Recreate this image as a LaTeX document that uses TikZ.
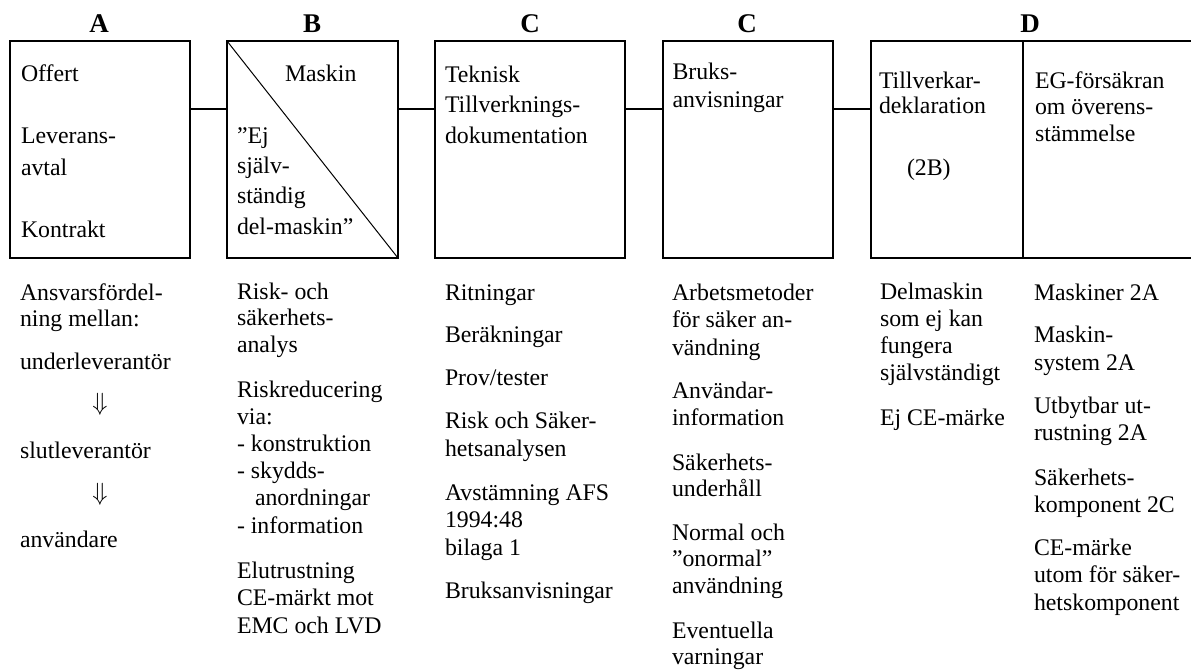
\documentclass[tikz,border=0pt]{standalone}
\usepackage{fontspec}
\setmainfont{Liberation Serif}
\tikzset{
  box/.style={draw, line width=2pt, inner sep=0pt, outer sep=0pt},
  txt/.style={anchor=base west, inner sep=0pt, outer sep=0pt, align=left, font=\fontsize{23.8}{#1}\selectfont},
  txt/.default=26.8,
  hdr/.style={anchor=base, inner sep=0pt, outer sep=0pt, font=\fontsize{27}{30}\selectfont\bfseries},
  arr/.style={anchor=base, inner sep=0pt, outer sep=0pt, font=\fontsize{23.8}{26.8}\selectfont},
  link/.style={line width=2pt},
  diag/.style={line width=1pt},
}
\begin{document}
\begin{tikzpicture}[x=1pt,y=-1pt]
\useasboundingbox (0,0) rectangle (1191,670);
% headers
\node[hdr] (hA) at (99,32) {A};
\node[hdr] (hB) at (312,32) {B};
\node[hdr] (hC1) at (530,32) {C};
\node[hdr] (hC2) at (747,32) {C};
\node[hdr] (hD) at (1030,32) {D};
% boxes
\node[box, minimum width=180pt, minimum height=217pt] (bA) at (100,149.5) {};
\node[box, minimum width=171pt, minimum height=217pt] (bB) at (312.5,149.5) {};
\node[box, minimum width=190pt, minimum height=217pt] (bC1) at (530,149.5) {};
\node[box, minimum width=170pt, minimum height=217pt] (bC2) at (748,149.5) {};
\node[box, minimum width=152pt, minimum height=217pt] (bD1) at (947,149.5) {};
\node[box, minimum width=170pt, minimum height=217pt] (bD2) at (1108,149.5) {};
% diagonal in B
\draw[diag] (bB.north west) -- (bB.south east);
% connectors
\draw[link] ([yshift=-68pt]bA.north east) -- ([yshift=-68pt]bB.north west);
\draw[link] ([yshift=-68pt]bB.north east) -- ([yshift=-68pt]bC1.north west);
\draw[link] ([yshift=-68pt]bC1.north east) -- ([yshift=-68pt]bC2.north west);
\draw[link] ([yshift=-68pt]bC2.north east) -- ([yshift=-68pt]bD1.north west);
% box texts (positions are the baseline of the last line)
\node[txt] (tA1) at (21,81) {Offert};
\node[txt=32] (tA2) at (21,175) {Leverans-\\avtal};
\node[txt] (tA3) at (21,237) {Kontrakt};
\node[txt] (tB1) at (285,81) {Maskin};
\node[txt=30.3] (tB2) at (237,234) {”Ej\\själv-\\ständig\\del-maskin”};
\node[txt=30.5] (tC1) at (445,143) {Teknisk\\Tillverknings-\\dokumentation};
\node[txt=28] (tC2) at (672.5,107) {Bruks-\\anvisningar};
\node[txt=25] (tD1) at (879,113) {Tillverkar-\\deklaration};
\node[txt] (tD1b) at (907,175) {(2B)};
\node[txt=26.7] (tD2) at (1035,141.4) {EG-försäkran\\om överens-\\stämmelse};
% column A
\node[txt] (a1) at (20,326.8) {Ansvarsfördel-\\ning mellan:};
\node[txt] (a2) at (20,369) {underleverantör};
\node[arr] (a3) at (100,410.5) {$\Downarrow$};
\node[txt] (a4) at (20,458) {slutleverantör};
\node[arr] (a5) at (100,500) {$\Downarrow$};
\node[txt] (a6) at (20,547) {användare};
% column B
\node[txt] (b1) at (237,352.6) {Risk- och\\säkerhets-\\analys};
\node[txt=27.2] (b2) at (237,533) {Riskreducering\\via:\\- konstruktion\\- skydds-\\\hspace*{18pt}anordningar\\- information};
\node[txt=27.5] (b3) at (237,633) {Elutrustning\\CE-märkt mot\\EMC och LVD};
% column C1
\node[txt] (c1) at (445,300) {Ritningar};
\node[txt] (c2) at (445,342) {Beräkningar};
\node[txt] (c3) at (445,385) {Prov/tester};
\node[txt=28.5] (c4) at (445,456.5) {Risk och Säker-\\hetsanalysen};
\node[txt=27.5] (c5) at (445,555) {Avstämning AFS\\1994:48\\bilaga 1};
\node[txt] (c6) at (445,598) {Bruksanvisningar};
% column C2
\node[txt=27.5] (d1) at (672,355) {Arbetsmetoder\\för säker an-\\vändning};
\node[txt=27] (d2) at (672,425) {Användar-\\information};
\node[txt=26.5] (d3) at (672,496.5) {Säkerhets-\\underhåll};
\node[txt=26.5] (d4) at (672,593) {Normal och\\”onormal”\\användning};
\node[txt=26.5] (d5) at (672,664.5) {Eventuella\\varningar};
% column D1
\node[txt=26.7] (e1) at (880,380) {Delmaskin\\som ej kan\\fungera\\självständigt};
\node[txt] (e2) at (880,425) {Ej CE-märke};
% column D2
\node[txt] (f1) at (1034,300) {Maskiner 2A};
\node[txt=28] (f2) at (1034,370) {Maskin-\\system 2A};
\node[txt=27] (f3) at (1034,440) {Utbytbar ut-\\rustning 2A};
\node[txt=27] (f4) at (1034,512) {Säkerhets-\\komponent 2C};
\node[txt=27.5] (f5) at (1034,610) {CE-märke\\utom för säker-\\hetskomponent};
\end{tikzpicture}
\end{document}
